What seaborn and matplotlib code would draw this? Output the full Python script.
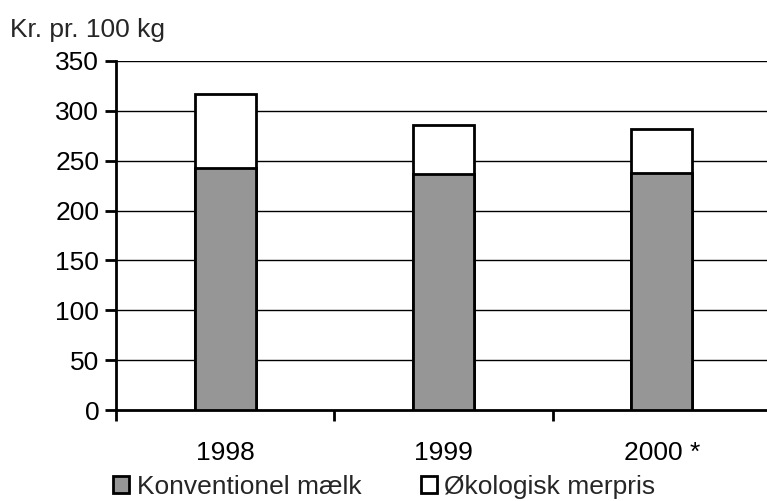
import matplotlib
matplotlib.use("Agg")
import matplotlib.pyplot as plt
import seaborn as sns
import pandas as pd
from matplotlib.patches import Patch
from matplotlib.ticker import FixedLocator, NullFormatter

years = ["1998", "1999", "2000 *"]
konventionel = [243, 237, 238]
merpris = [74, 49, 44]
series_names = ["Konventionel mælk", "Økologisk merpris"]
yticks = [0, 50, 100, 150, 200, 250, 300, 350]

sns.set_theme(style="white")
plt.rcParams["font.family"] = ["Liberation Sans", "DejaVu Sans"]
FS = 19

df = pd.DataFrame({"year": years, "konv": konventionel,
                   "total": [a + b for a, b in zip(konventionel, merpris)]})

fig = plt.figure(figsize=(7.67, 5.01), dpi=100)
ax = fig.add_axes([116/767, (501-410)/501, (771-116)/767, (410-61)/501])

for y in yticks[1:]:
    ax.axhline(y, color="black", lw=1.0, zorder=0)

sns.barplot(data=df, x="year", y="total", color="white", edgecolor="black",
            linewidth=2, width=0.28, ax=ax, saturation=1, zorder=2)
sns.barplot(data=df, x="year", y="konv", color="#969696", edgecolor="black",
            linewidth=2, width=0.28, ax=ax, saturation=1, zorder=3)

ax.set_xlim(-0.5, 2.5)
ax.set_ylim(0, 350)
ax.set_yticks(yticks)
ax.set_yticklabels([str(v) for v in yticks], fontsize=FS)
ax.set_xticks(range(len(years)))
ax.set_xticklabels(years, fontsize=FS)
ax.xaxis.set_minor_locator(FixedLocator([-0.5, 0.5, 1.5, 2.5]))
ax.xaxis.set_minor_formatter(NullFormatter())
ax.tick_params(axis="x", which="major", length=0, pad=22, colors="black")
ax.tick_params(axis="x", which="minor", length=8, width=2, direction="out", color="black", bottom=True)
ax.tick_params(axis="y", length=8, width=2, direction="out", pad=4, colors="black", left=True)
ax.set_xlabel("")
ax.set_ylabel("")
for s in ["top", "right"]:
    ax.spines[s].set_visible(False)
for s in ["left", "bottom"]:
    ax.spines[s].set_color("black")
    ax.spines[s].set_linewidth(2)
ax.set_facecolor("white")

fig.text(10/767, 1-30/501, "Kr. pr. 100 kg", fontsize=FS, va="center", ha="left")

handles = [Patch(facecolor="#969696", edgecolor="black", lw=2),
           Patch(facecolor="white", edgecolor="black", lw=2)]
fig.legend(handles, series_names, loc="center left", ncol=2, frameon=False,
           fontsize=FS, bbox_to_anchor=(113/767, 1-487/501),
           handlelength=0.6, handleheight=0.6, handletextpad=0.3,
           columnspacing=2.25, borderaxespad=0, borderpad=0)

fig.savefig("out.png", dpi=100, facecolor="white")
